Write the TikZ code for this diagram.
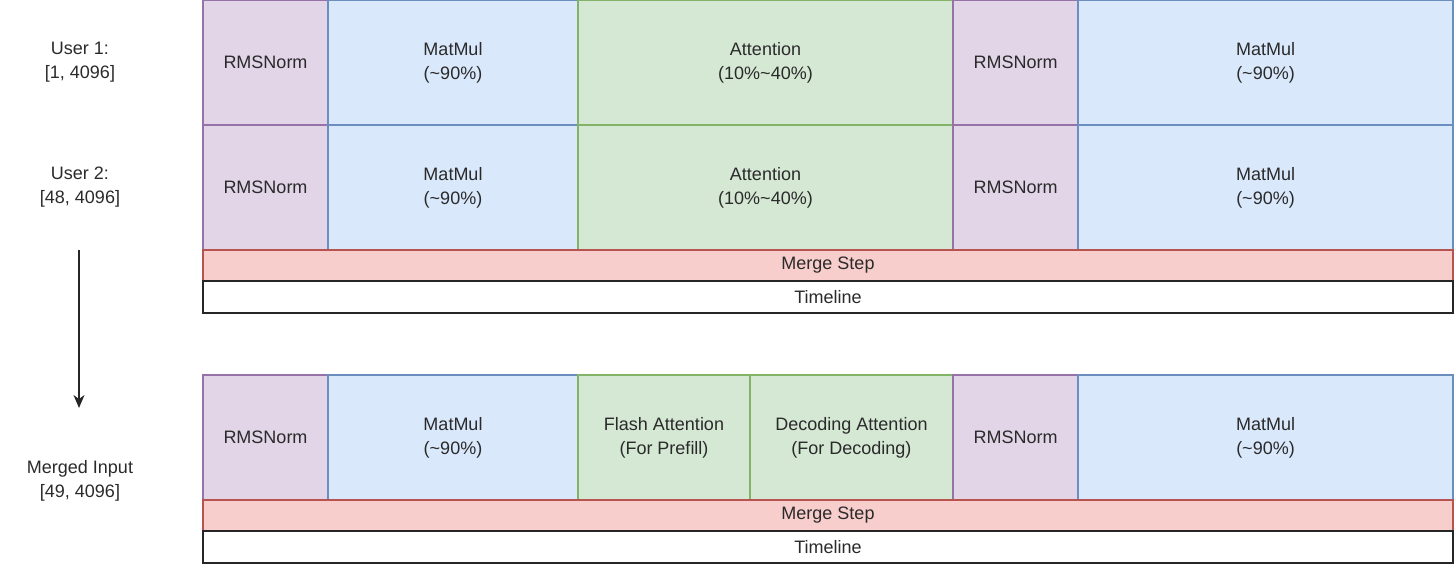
\documentclass[tikz,border=0pt]{standalone}
\usepackage{fontspec}
\setmainfont{Liberation Sans}
\usetikzlibrary{arrows.meta}
\definecolor{pfill}{HTML}{E1D5E7}\definecolor{pdraw}{HTML}{9673A6}
\definecolor{bfill}{HTML}{DAE8FC}\definecolor{bdraw}{HTML}{6C8EBF}
\definecolor{gfill}{HTML}{D5E8D4}\definecolor{gdraw}{HTML}{82B366}
\definecolor{rfill}{HTML}{F8CECC}\definecolor{rdraw}{HTML}{B85450}
\definecolor{txt}{HTML}{2A2A2A}
\tikzset{
  blk/.style={rectangle, inner sep=0pt, outer sep=0pt, line width=1.2pt, text=txt,
    align=center, font=\fontsize{18}{24}\selectfont},
  norm/.style={blk, fill=pfill, draw=pdraw},
  mm/.style={blk, fill=bfill, draw=bdraw},
  att/.style={blk, fill=gfill, draw=gdraw},
  merge/.style={blk, fill=rfill, draw=rdraw},
  tl/.style={blk, fill=white, draw=black!85},
  lbl/.style={align=center, text=txt, font=\fontsize{18}{24}\selectfont, inner sep=0pt},
}
\newcommand{\blkbox}[7]{%
  \node[#6, minimum width={(#4)-(#2)}, minimum height={(#5)-(#3)}] (#1)
    at ({((#2)+(#4))/2},{((#3)+(#5))/2}) {#7};}
\begin{document}
\begin{tikzpicture}[x=1pt,y=-1pt]
\useasboundingbox (0,0) rectangle (1454,564);
% row 1
\blkbox{ra1}{203}{0.6}{328}{125}{norm}{RMSNorm}
\blkbox{ma1}{328}{0.6}{578}{125}{mm}{MatMul\\(\textasciitilde 90\%)}
\blkbox{aa1}{578}{0.6}{953}{125}{att}{Attention\\(10\%\textasciitilde 40\%)}
\blkbox{rb1}{953}{0.6}{1078}{125}{norm}{RMSNorm}
\blkbox{mb1}{1078}{0.6}{1453}{125}{mm}{MatMul\\(\textasciitilde 90\%)}
% row 2
\blkbox{ra2}{203}{125}{328}{250}{norm}{RMSNorm}
\blkbox{ma2}{328}{125}{578}{250}{mm}{MatMul\\(\textasciitilde 90\%)}
\blkbox{aa2}{578}{125}{953}{250}{att}{Attention\\(10\%\textasciitilde 40\%)}
\blkbox{rb2}{953}{125}{1078}{250}{norm}{RMSNorm}
\blkbox{mb2}{1078}{125}{1453}{250}{mm}{MatMul\\(\textasciitilde 90\%)}
\blkbox{ms1}{203}{250}{1453}{281}{merge}{Merge Step}
\blkbox{tl1}{203}{281}{1453}{313}{tl}{Timeline}
% row 3
\blkbox{ra3}{203}{375}{328}{500}{norm}{RMSNorm}
\blkbox{ma3}{328}{375}{578}{500}{mm}{MatMul\\(\textasciitilde 90\%)}
\blkbox{fa3}{578}{375}{750}{500}{att}{Flash Attention\\(For Prefill)}
\blkbox{da3}{750}{375}{953}{500}{att}{Decoding Attention\\(For Decoding)}
\blkbox{rb3}{953}{375}{1078}{500}{norm}{RMSNorm}
\blkbox{mb3}{1078}{375}{1453}{500}{mm}{MatMul\\(\textasciitilde 90\%)}
\blkbox{ms2}{203}{500}{1453}{531}{merge}{Merge Step}
\blkbox{tl2}{203}{531}{1453}{563}{tl}{Timeline}
% left labels
\node[lbl] (u1) at (80,62) {User 1:\\{}[1, 4096]};
\node[lbl] (u2) at (80,187) {User 2:\\{}[48, 4096]};
\node[lbl] (mi) at (80,481) {Merged Input\\{}[49, 4096]};
\coordinate (as) at (79,250);
\coordinate (ae) at (79,408);
\draw[line width=1.4pt, black!85, -{Stealth[length=13pt,width=11pt,inset=4pt]}] (as) -- (ae);
\end{tikzpicture}
\end{document}
